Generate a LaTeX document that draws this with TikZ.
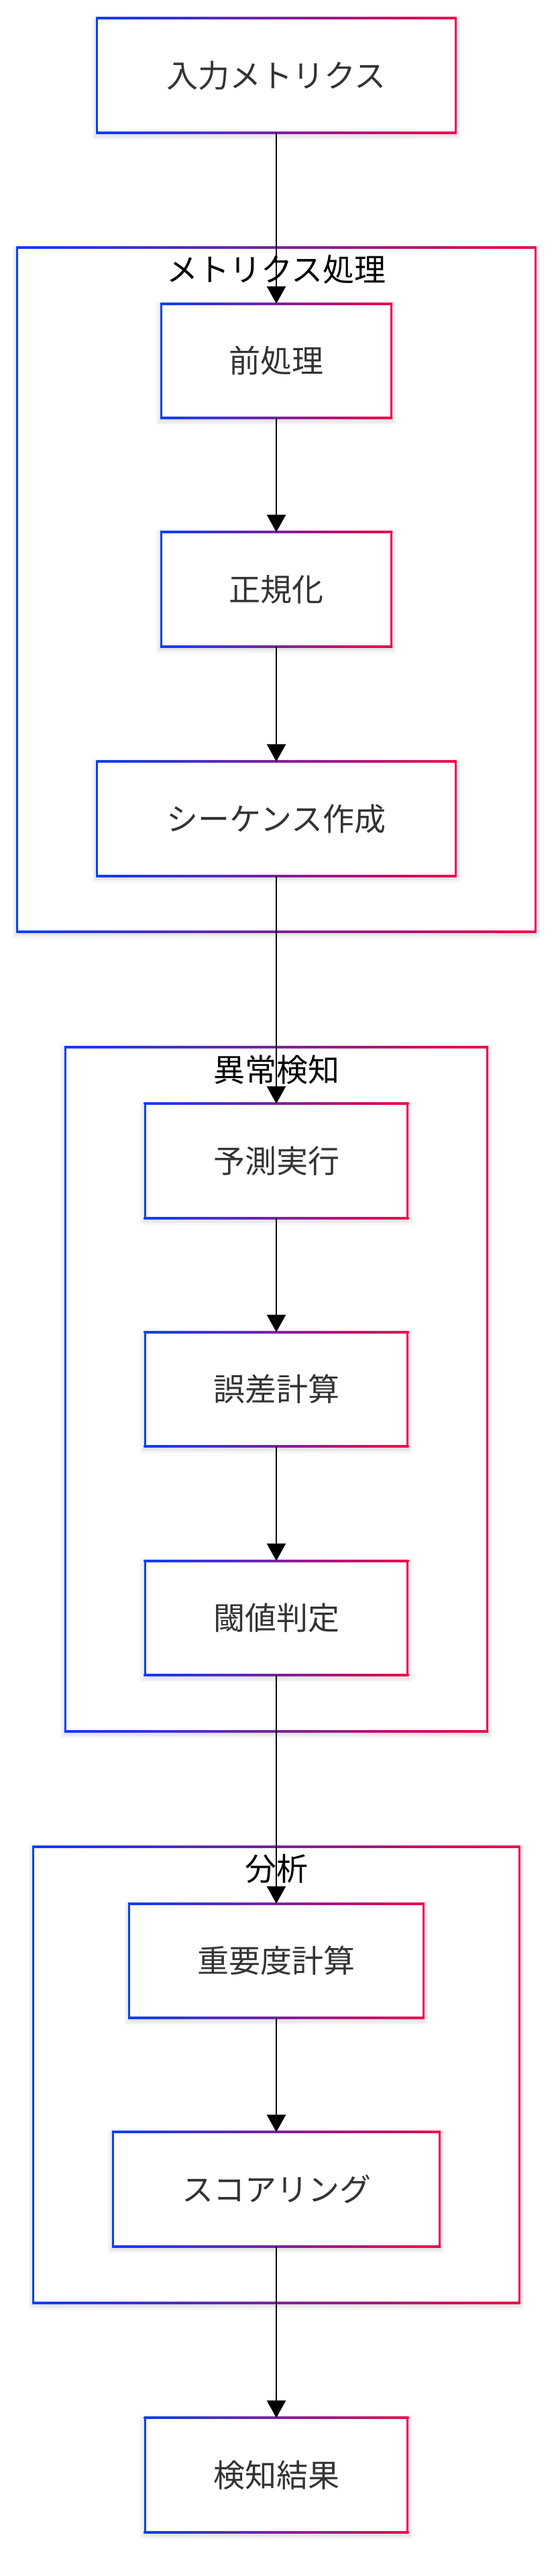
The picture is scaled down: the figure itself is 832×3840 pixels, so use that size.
\documentclass[tikz,border=0pt]{standalone}
\usepackage{fontspec}
\newfontfamily\jp{Noto Sans CJK JP}
\usetikzlibrary{arrows.meta,calc}
\definecolor{cb}{RGB}{8,62,250}
\definecolor{cr}{RGB}{240,2,72}
\definecolor{txt}{RGB}{51,51,51}
\pgfdeclarelayer{bgl}
\pgfdeclarelayer{grp}
\pgfdeclarelayer{box}
\pgfsetlayers{bgl,grp,box,main}
\newcommand\gframe[2]{%
  \begin{pgfonlayer}{#2}
    \foreach \k in {7,4.5,2} {
      \fill[black,opacity=0.035] ([shift={(-\k,-\k-3)}]#1.south west) rectangle ([shift={(\k,\k-3)}]#1.north east);
    }
    \fill[white] (#1.south west) rectangle (#1.north east);
    \shade[left color=cb,right color=cr] ([shift={(-1.5,-1.5)}]#1.north west) rectangle ([shift={(1.5,1.5)}]#1.north east);
    \shade[left color=cb,right color=cr] ([shift={(-1.5,-1.5)}]#1.south west) rectangle ([shift={(1.5,1.5)}]#1.south east);
    \fill[cb] ([shift={(-1.5,-1.5)}]#1.south west) rectangle ([shift={(1.5,1.5)}]#1.north west);
    \fill[cr] ([shift={(-1.5,-1.5)}]#1.south east) rectangle ([shift={(1.5,1.5)}]#1.north east);
  \end{pgfonlayer}}
\tikzset{
  procbox/.style={rectangle, inner sep=0pt, minimum height=170pt, text=txt, font=\jp\fontsize{47}{56}\selectfont},
  grpbox/.style={rectangle, inner sep=0pt},
  grptitle/.style={inner sep=0pt, text=black, font=\jp\fontsize{47}{56}\selectfont},
  flow/.style={line width=2.8pt, draw=black, -{Triangle[width=28pt,length=26pt]}}
}
\begin{document}
\begin{tikzpicture}[x=1pt,y=1pt]
\useasboundingbox (0,0) rectangle (832,-3840);
\begin{pgfonlayer}{bgl}
  \fill[white] (0,0) rectangle (832,-3840);
\end{pgfonlayer}
% groups
\node[grpbox, minimum width=772pt, minimum height=1019pt] (g1) at (412,-879) {};
\node[grpbox, minimum width=629pt, minimum height=1019pt] (g2) at (412,-2071) {};
\node[grpbox, minimum width=724pt, minimum height=679pt] (g3) at (412,-3093) {};
\gframe{g1}{grp}
\gframe{g2}{grp}
\gframe{g3}{grp}
\node[grptitle] (g1t) at (412,-402) {メトリクス処理};
\node[grptitle] (g2t) at (412,-1595) {異常検知};
\node[grptitle] (g3t) at (412,-2786) {分析};
% boxes
\node[procbox, minimum width=534pt] (in) at (412,-112.5) {入力メトリクス};
\node[procbox, minimum width=343pt] (pre) at (412,-538) {前処理};
\node[procbox, minimum width=343pt] (norm) at (412,-878.5) {正規化};
\node[procbox, minimum width=534pt] (seq) at (412,-1220.5) {シーケンス作成};
\node[procbox, minimum width=391.5pt] (pred) at (412,-1730.5) {予測実行};
\node[procbox, minimum width=391.5pt] (err) at (412,-2071) {誤差計算};
\node[procbox, minimum width=391.5pt] (thr) at (412,-2412) {閾値判定};
\node[procbox, minimum width=438.5pt] (imp) at (412,-2923) {重要度計算};
\node[procbox, minimum width=487pt] (score) at (412,-3263.5) {スコアリング};
\node[procbox, minimum width=391.5pt] (res) at (412,-3689.5) {検知結果};
\foreach \n in {in,pre,norm,seq,pred,err,thr,imp,score,res} {\gframe{\n}{box}}
% connectors
\draw[flow] (in.south) -- (pre.north);
\draw[flow] (pre.south) -- (norm.north);
\draw[flow] (norm.south) -- (seq.north);
\draw[flow] (seq.south) -- (pred.north);
\draw[flow] (pred.south) -- (err.north);
\draw[flow] (err.south) -- (thr.north);
\draw[flow] (thr.south) -- (imp.north);
\draw[flow] (imp.south) -- (score.north);
\draw[flow] (score.south) -- (res.north);
\end{tikzpicture}
\end{document}
